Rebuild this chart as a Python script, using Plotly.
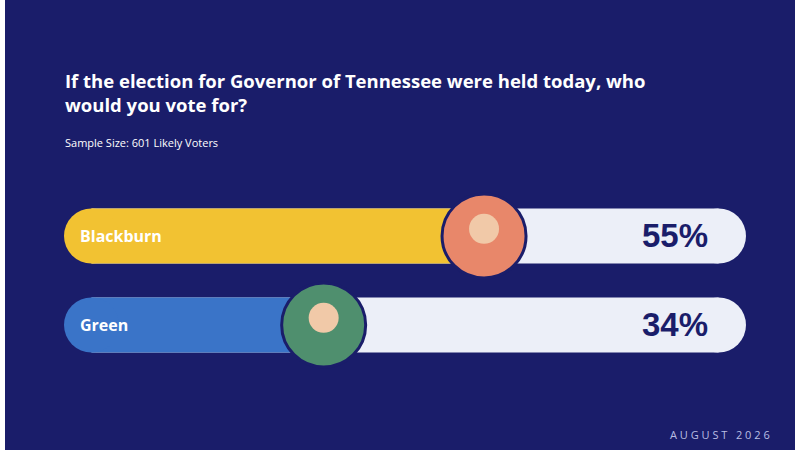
import plotly.graph_objects as go

candidates = ["Blackburn", "Green"]
values = [55, 34]
value_labels = ["55%", "34%"]
bar_colors = ["#f2c232", "#3a74c8"]
photo_colors = ["#e8876a", "#4f8f6e"]
ypos = [1, 0]
XMAX = 89.3
NAVY = "#1a1d6a"
TRACK = "#eceff8"
CAP = 27.5 / 682 * XMAX

fig = go.Figure()
fig.add_trace(go.Bar(x=[XMAX - 2 * CAP] * 2, base=CAP, y=ypos, orientation="h", width=0.62,
                     marker=dict(color=TRACK, line=dict(width=0)), hoverinfo="skip"))
fig.add_trace(go.Scatter(x=[XMAX - CAP] * 2, y=ypos, mode="markers", hoverinfo="skip",
                         marker=dict(size=55, color=TRACK, line=dict(width=0))))
fig.add_trace(go.Bar(x=[v - CAP for v in values], base=CAP, y=ypos, orientation="h", width=0.62,
                     marker=dict(color=bar_colors, line=dict(width=0)), hoverinfo="skip"))
fig.add_trace(go.Scatter(x=[CAP, CAP], y=ypos, mode="markers", hoverinfo="skip",
                         marker=dict(size=55, color=bar_colors, line=dict(width=0))))
fig.add_trace(go.Scatter(x=values, y=ypos, mode="markers", hoverinfo="skip",
                         marker=dict(size=84, color=photo_colors, line=dict(color=NAVY, width=3))))
fig.add_trace(go.Scatter(x=values, y=[y + 0.08 for y in ypos], mode="markers", hoverinfo="skip",
                         marker=dict(size=30, color="#f1c9a8")))

for c, v, lab, y in zip(candidates, values, value_labels, ypos):
    fig.add_annotation(x=0, y=y, text=f"<b>{c}</b>", xanchor="left", showarrow=False,
                       xshift=14, font=dict(family="Open Sans", size=16, color="white"))
    fig.add_annotation(x=XMAX, y=y, text=f"<b>{lab}</b>", xanchor="right", showarrow=False,
                       xshift=-36, font=dict(family="Liberation Sans", size=33, color=NAVY))

fig.add_annotation(xref="paper", yref="paper", x=-0.002, y=1.463, xanchor="left", yanchor="middle",
                   align="left", showarrow=False,
                   text="<b>If the election for Governor of Tennessee were held today, who<br>would you vote for?</b>",
                   font=dict(family="Open Sans", size=18.5, color="white"))
fig.add_annotation(xref="paper", yref="paper", x=-0.002, y=1.195, xanchor="left", yanchor="middle",
                   showarrow=False, text="Sample Size: 601 Likely Voters",
                   font=dict(family="Open Sans", size=11, color="white"))
fig.add_annotation(xref="paper", yref="paper", x=(772 - 64) / 682, y=(370 - 434) / 190,
                   xanchor="right", yanchor="middle", showarrow=False,
                   text="A U G U S T   2 0 2 6",
                   font=dict(family="Open Sans", size=11, color="#b9bde3"))

for x0, x1 in [(-64 / 682, -59 / 682), (731 / 682, 736 / 682)]:
    fig.add_shape(type="rect", xref="paper", yref="paper", x0=x0, x1=x1, y0=-1, y1=3,
                  fillcolor="white", line=dict(width=0), layer="below")

fig.update_layout(width=800, height=450, barmode="overlay",
                  paper_bgcolor=NAVY, plot_bgcolor=NAVY, showlegend=False,
                  margin=dict(l=64, r=54, t=180, b=80),
                  xaxis=dict(range=[0, XMAX], visible=False, fixedrange=True),
                  yaxis=dict(range=[-0.506, 1.629], visible=False, fixedrange=True))
fig.write_html("out.html", config={"displayModeBar": False},
               post_script="document.body.style.margin='0';")
